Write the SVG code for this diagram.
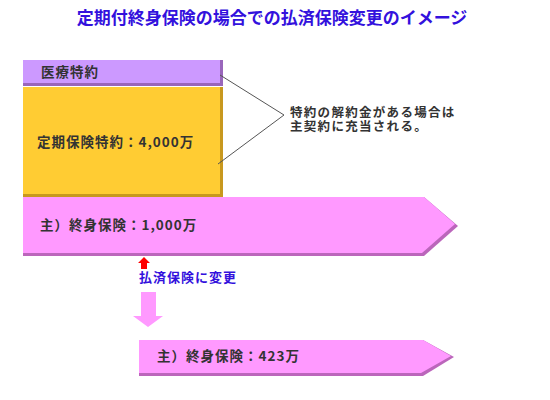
<svg xmlns="http://www.w3.org/2000/svg" width="550" height="400" viewBox="0 0 550 400">
<style>
text{font-family:"Noto Sans CJK JP","Noto Sans",sans-serif;font-weight:bold}
.t{font-size:13.5px;fill:#333333;letter-spacing:1px}
.n{font-family:"Liberation Sans","Noto Sans CJK JP",sans-serif;font-size:12.5px;fill:#333333;letter-spacing:1.3px}
.b{fill:#3311dd}
.ln{stroke:#555555;stroke-width:1;fill:none}
</style>
<rect width="550" height="400" fill="#ffffff"/>
<text class="b" x="272" y="24" font-size="17" text-anchor="middle">定期付終身保険の場合での払済保険変更のイメージ</text>
<g id="medical">
<rect x="23" y="60" width="200" height="26" fill="#9966bb"/>
<rect x="23" y="60" width="197" height="23" fill="#cc99ff"/>
<text class="t" x="41" y="77" letter-spacing="0.5">医療特約</text>
</g>
<g id="term">
<rect x="23" y="87" width="200" height="110" fill="#c8981e"/>
<rect x="23" y="87" width="197" height="107" fill="#ffcc33"/>
<text class="t" x="37" y="147">定期保険特約：4,000万</text>
</g>
<g id="connectors">
<polyline class="ln" points="220,75 284,115 218,164"/>
<path d="M141,262 h6 v7 h-6 z M138,263 L144,257 L150,263 z" fill="#ff0000"/>
<path d="M141,292 h15 v24 h7 L148,327 L133,316 h8 z" fill="#ff99ff"/>
</g>
<g id="note">
<text class="n" x="290" y="117">特約の解約金がある場合は</text>
<text class="n" x="290" y="131">主契約に充当される。</text>
</g>
<g id="main1">
<path d="M23,197 H424 L458,226 L424,256 H23 Z" fill="#bb66bb"/>
<path d="M23,197 H424 L455,224 L422,253 H23 Z" fill="#ff99ff"/>
<text class="t" x="40" y="230">主）終身保険：1,000万</text>
</g>
<g id="change">
<text class="b" x="139" y="282" font-size="13" letter-spacing="1">払済保険に変更</text>
</g>
<g id="main2">
<path d="M139,340 H423 L454,357 L423,376 H139 Z" fill="#bb66bb"/>
<path d="M139,340 H423 L451,356 L421,373 H139 Z" fill="#ff99ff"/>
<text class="t" x="157" y="361">主）終身保険：423万</text>
</g>
</svg>
